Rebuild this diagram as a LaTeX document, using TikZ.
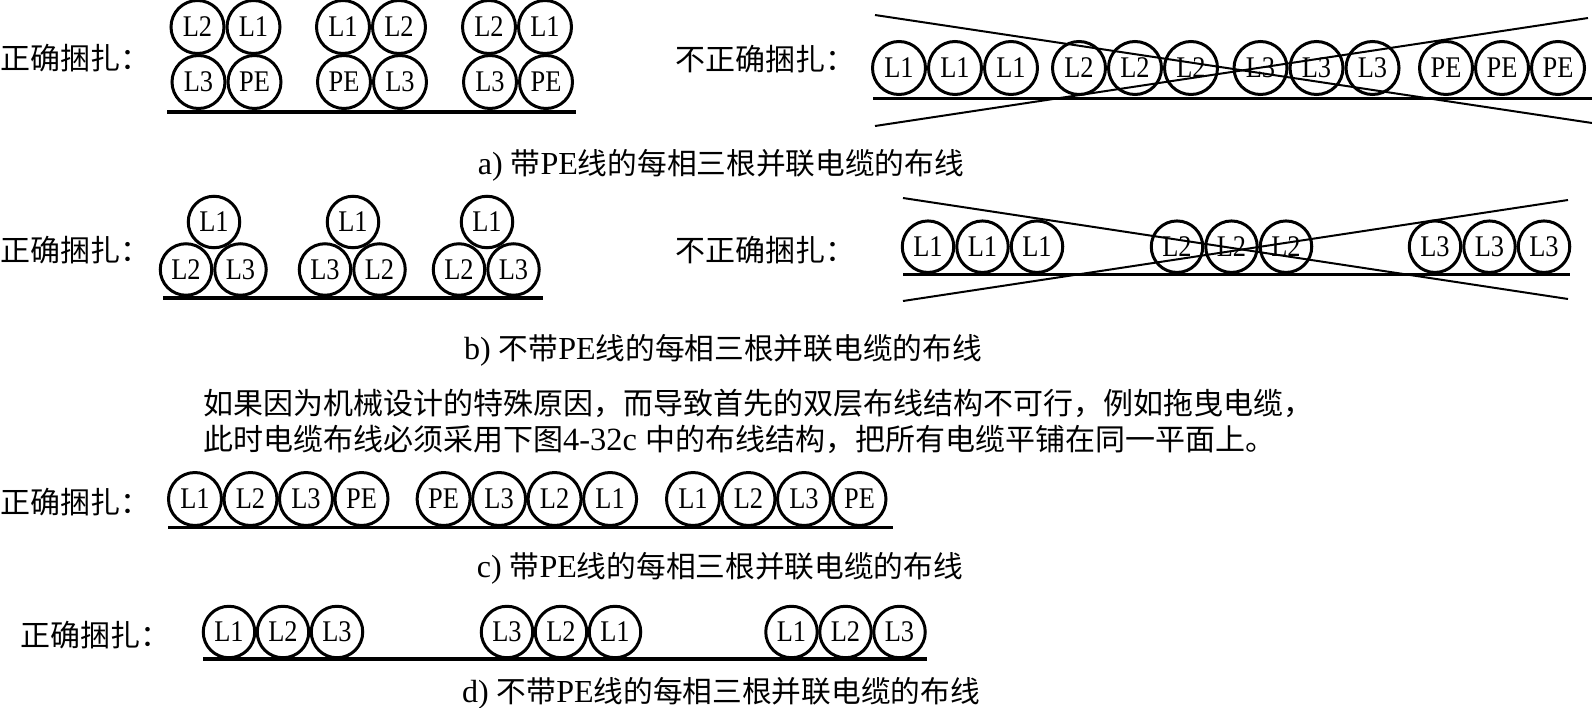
\documentclass[tikz,border=0pt]{standalone}
\usepackage{fontspec}
\setmainfont[FakeStretch=0.88]{Liberation Serif}
\newfontfamily\txt[Scale=1.08]{Liberation Serif}
\newfontfamily\cjk{Noto Sans CJK SC}
\usetikzlibrary{positioning}

\begin{document}
\begin{tikzpicture}[
    x=1pt, y=-1pt,
    cable/.style={
      draw,
      circle,
      line width=3pt,
      minimum size=53pt,
      inner sep=0pt,
      font=\fontsize{30}{32}\selectfont
    },
    smallcable/.style={cable, minimum size=51.5pt},
    base/.style={line width=3.5pt},
    cross/.style={line width=2pt},
    lbl/.style={anchor=west, inner sep=0pt, font=\fontsize{30}{34}\selectfont\txt},
    caption/.style={inner sep=0pt, font=\fontsize{29.7}{32}\selectfont\txt}
  ]
    \useasboundingbox (0,0) rectangle (1592,707);

    % row a, correct
    \node[lbl] (oka) at (0,58) {\cjk 正确捆扎：};
    \node[cable] (aL2) at (197.5,27) {L2};
    \node[cable, right=0pt of aL2] (aL1) {L1};
    \node[cable] (aL3) at (198.5,82) {L3};
    \node[cable, right=0pt of aL3] (aPE) {PE};
    \node[cable] (bL1) at (343,27) {L1};
    \node[cable, right=0pt of bL1] (bL2) {L2};
    \node[cable] (bPE) at (344,82) {PE};
    \node[cable, right=0pt of bPE] (bL3) {L3};
    \node[cable] (cL2) at (489,27) {L2};
    \node[cable, right=0pt of cL2] (cL1) {L1};
    \node[cable] (cL3) at (490,82) {L3};
    \node[cable, right=0pt of cL3] (cPE) {PE};
    \coordinate (basea1) at (167,112);
    \coordinate (basea2) at (575.5,112);
    \draw[base] (basea1) -- (basea2);

    % row a, wrong
    \node[lbl] (noa) at (675,59) {\cjk 不正确捆扎：};
    \node[cable] (wa1) at (899,68) {L1};
    \node[cable, right=0pt of wa1] (wa2) {L1};
    \node[cable, right=0pt of wa2] (wa3) {L1};
    \node[cable] (wa4) at (1079,68) {L2};
    \node[cable, right=0pt of wa4] (wa5) {L2};
    \node[cable, right=0pt of wa5] (wa6) {L2};
    \node[cable] (wa7) at (1260.5,68) {L3};
    \node[cable, right=0pt of wa7] (wa8) {L3};
    \node[cable, right=0pt of wa8] (wa9) {L3};
    \node[cable] (wa10) at (1446,68) {PE};
    \node[cable, right=0pt of wa10] (wa11) {PE};
    \node[cable, right=0pt of wa11] (wa12) {PE};
    \coordinate (basew1) at (873,98.3);
    \coordinate (basew2) at (1592,98.3);
    \coordinate (xa1) at (875,15);
    \coordinate (xa2) at (1592,123);
    \coordinate (xa3) at (875,126);
    \coordinate (xa4) at (1588,18);
    \draw[base] (basew1) -- (basew2);
    \draw[cross] (xa1) -- (xa2);
    \draw[cross] (xa3) -- (xa4);

    \node[caption] (capa) at (721,165) {a) {\cjk 带}PE{\cjk 线的每相三根并联电缆的布线}};

    % row b, correct
    \node[lbl] (okb) at (0,250) {\cjk 正确捆扎：};
    \node[smallcable] (dL1) at (214,222) {L1};
    \node[smallcable] (dL2) at (186,269.5) {L2};
    \node[smallcable, right=0pt of dL2] (dL3) {L3};
    \node[smallcable] (eL1) at (353,222) {L1};
    \node[smallcable] (eL3) at (325,269.5) {L3};
    \node[smallcable, right=0pt of eL3] (eL2) {L2};
    \node[smallcable] (fL1) at (487,222) {L1};
    \node[smallcable] (fL2) at (459,269.5) {L2};
    \node[smallcable, right=0pt of fL2] (fL3) {L3};
    \coordinate (baseb1) at (163,298);
    \coordinate (baseb2) at (543,298);
    \draw[base] (baseb1) -- (baseb2);

    % row b, wrong
    \node[lbl] (nob) at (675,250) {\cjk 不正确捆扎：};
    \node[smallcable] (wb1) at (928,246.7) {L1};
    \node[smallcable, right=0pt of wb1] (wb2) {L1};
    \node[smallcable, right=0pt of wb2] (wb3) {L1};
    \node[smallcable] (wb4) at (1177,246.7) {L2};
    \node[smallcable, right=0pt of wb4] (wb5) {L2};
    \node[smallcable, right=0pt of wb5] (wb6) {L2};
    \node[smallcable] (wb7) at (1435,246.7) {L3};
    \node[smallcable, right=0pt of wb7] (wb8) {L3};
    \node[smallcable, right=0pt of wb8] (wb9) {L3};
    \coordinate (basex1) at (903,274.5);
    \coordinate (basex2) at (1570,274.5);
    \coordinate (xb1) at (903,198);
    \coordinate (xb2) at (1568,299);
    \coordinate (xb3) at (903,301);
    \coordinate (xb4) at (1568,200);
    \draw[base] (basex1) -- (basex2);
    \draw[cross] (xb1) -- (xb2);
    \draw[cross] (xb3) -- (xb4);

    \node[caption] (capb) at (723,350) {b) {\cjk 不带}PE{\cjk 线的每相三根并联电缆的布线}};

    % text between the rows
    \node[lbl] (para1) at (203,403) {\cjk 如果因为机械设计的特殊原因，而导致首先的双层布线结构不可行，例如拖曳电缆，};
    \node[lbl] (para2) at (203,439) {{\cjk 此时电缆布线必须采用下图}4-32c {\cjk 中的布线结构，把所有电缆平铺在同一平面上。}};

    % row c
    \node[lbl] (okc) at (0,502) {\cjk 正确捆扎：};
    \node[cable] (g1) at (195,499) {L1};
    \node[cable, right=-0.5pt of g1] (g2) {L2};
    \node[cable, right=-0.5pt of g2] (g3) {L3};
    \node[cable, right=-0.5pt of g3] (g4) {PE};
    \node[cable] (h1) at (443.6,499) {PE};
    \node[cable, right=-0.5pt of h1] (h2) {L3};
    \node[cable, right=-0.5pt of h2] (h3) {L2};
    \node[cable, right=-0.5pt of h3] (h4) {L1};
    \node[cable] (i1) at (693,499) {L1};
    \node[cable, right=-0.5pt of i1] (i2) {L2};
    \node[cable, right=-0.5pt of i2] (i3) {L3};
    \node[cable, right=-0.5pt of i3] (i4) {PE};
    \coordinate (basec1) at (168,527.7);
    \coordinate (basec2) at (893,527.7);
    \draw[base] (basec1) -- (basec2);

    \node[caption] (capc) at (720,568) {c) {\cjk 带}PE{\cjk 线的每相三根并联电缆的布线}};

    % row d
    \node[lbl] (okd) at (20,635) {\cjk 正确捆扎：};
    \node[smallcable] (j1) at (229,632) {L1};
    \node[smallcable, right=-0.5pt of j1] (j2) {L2};
    \node[smallcable, right=-0.5pt of j2] (j3) {L3};
    \node[smallcable] (k1) at (507,632) {L3};
    \node[smallcable, right=-0.5pt of k1] (k2) {L2};
    \node[smallcable, right=-0.5pt of k2] (k3) {L1};
    \node[smallcable] (l1) at (791.5,632) {L1};
    \node[smallcable, right=-0.5pt of l1] (l2) {L2};
    \node[smallcable, right=-0.5pt of l2] (l3) {L3};
    \coordinate (based1) at (203,659);
    \coordinate (based2) at (927,659);
    \draw[base] (based1) -- (based2);

    \node[caption] (capd) at (721,693.5) {d) {\cjk 不带}PE{\cjk 线的每相三根并联电缆的布线}};
  \end{tikzpicture}
\end{document}
